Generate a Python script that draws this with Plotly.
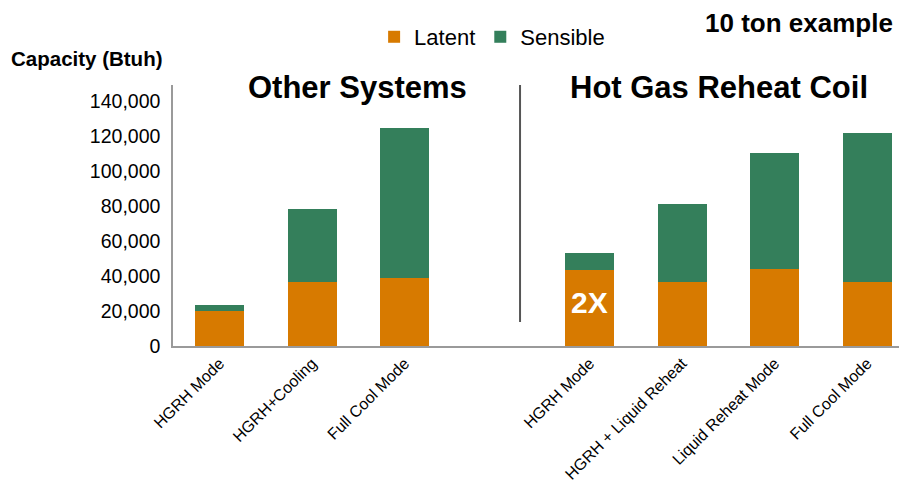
import plotly.graph_objects as go

# ---- data ----
categories = ["HGRH Mode", "HGRH+Cooling", "Full Cool Mode", "",
              "HGRH Mode", "HGRH + Liquid Reheat", "Liquid Reheat Mode", "Full Cool Mode"]
latent = [20000, 36500, 38800, None, 43400, 36500, 44000, 36500]
sensible = [3500, 41700, 85700, None, 9700, 44600, 66200, 85100]
y_ticks = [0, 20000, 40000, 60000, 80000, 100000, 120000, 140000]
series_names = ["Latent", "Sensible"]
group_titles = ["Other Systems", "Hot Gas Reheat Coil"]
badge_text = "2X"
badge_index = 4
badge_y = 24600

ORANGE = "#D77A00"
GREEN = "#347F5B"
FONT = "Liberation Sans, Arial, Helvetica, sans-serif"

xpos = list(range(len(categories)))

fig = go.Figure()
fig.add_trace(go.Bar(x=xpos, y=latent, name=series_names[0], marker_color=ORANGE,
                     marker_line_width=0))
fig.add_trace(go.Bar(x=xpos, y=sensible, name=series_names[1], marker_color=GREEN,
                     marker_line_width=0))

# the page body adds an 8px margin, so the figure is sized 8px smaller
fig.update_layout(
    width=899, height=481,
    margin=dict(l=165, r=0, t=77, b=143, autoexpand=False),
    paper_bgcolor="white", plot_bgcolor="white",
    barmode="stack", bargap=0.47,
    font=dict(family=FONT, color="black"),
    xaxis=dict(range=[-0.503, 7.432], tickmode="array", tickvals=xpos,
               ticktext=categories, tickangle=-45, ticks="", automargin=False,
               tickfont=dict(size=16, family=FONT, color="black"),
               showgrid=False, zeroline=False, showline=True,
               linecolor="#9a9a9a", linewidth=1.5),
    yaxis=dict(range=[0, 149000], tickmode="array", tickvals=y_ticks,
               ticktext=[f"{v:,}" for v in y_ticks], showgrid=False, automargin=False,
               zeroline=False, showline=True, linecolor="#9a9a9a", linewidth=1.5,
               ticks="", ticklabelstandoff=7,
               tickfont=dict(size=19.5, family=FONT, color="black")),
    legend=dict(orientation="h", x=0.274, xanchor="left", y=1.184, yanchor="middle",
                font=dict(size=22, family=FONT, color="black"),
                bgcolor="rgba(0,0,0,0)", traceorder="normal"),
    showlegend=True,
)

annotations = [
    dict(text="<b>Capacity (Btuh)</b>", xref="paper", yref="paper", x=-0.2235, y=1.103,
         xanchor="left", yanchor="middle", showarrow=False,
         font=dict(size=20.5, family=FONT, color="black")),
    dict(text="<b>10 ton example</b>", xref="paper", yref="paper", x=0.9837, y=1.2375,
         xanchor="right", yanchor="middle", showarrow=False,
         font=dict(size=26, family=FONT, color="black")),
    dict(text=f"<b>{group_titles[0]}</b>", xref="paper", yref="paper", x=0.2507, y=0.992,
         xanchor="center", yanchor="middle", showarrow=False,
         font=dict(size=31, family=FONT, color="black")),
    dict(text=f"<b>{group_titles[1]}</b>", xref="paper", yref="paper", x=0.7439, y=0.992,
         xanchor="center", yanchor="middle", showarrow=False,
         font=dict(size=31, family=FONT, color="black")),
    dict(text=f"<b>{badge_text}</b>", x=xpos[badge_index], y=badge_y, xref="x", yref="y",
         xanchor="center", yanchor="middle", showarrow=False,
         font=dict(size=30, family=FONT, color="white")),
]
fig.update_layout(annotations=annotations)

fig.add_shape(type="line", xref="paper", yref="paper", x0=0.4728, x1=0.4728,
              y0=0.092, y1=1.0, line=dict(color="#555555", width=2))

fig.write_html("out.html")
